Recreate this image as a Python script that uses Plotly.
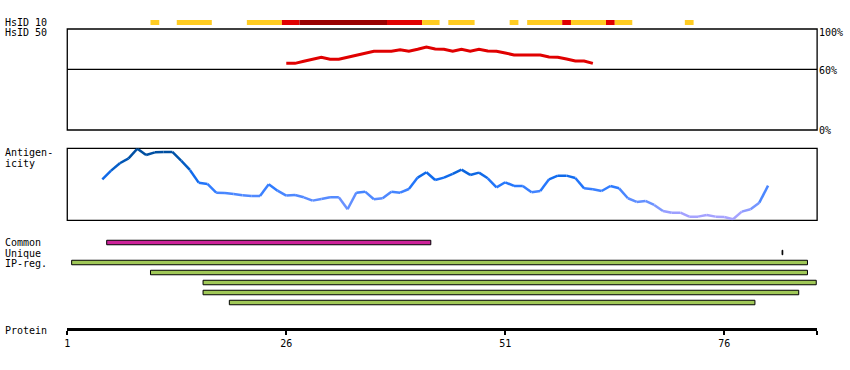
import plotly.graph_objects as go

# ---------------- data ----------------
# HsID 10 strip: residue ranges (inclusive) and identity level
hsid10_start = [11, 14, 22, 26, 28, 38, 42, 45, 52, 54, 58, 59, 63, 64, 72]
hsid10_end   = [11, 17, 25, 27, 37, 41, 43, 47, 52, 57, 58, 62, 63, 65, 72]
hsid10_level = ["low", "low", "low", "mid", "high", "mid", "low", "low", "low",
                "low", "mid", "low", "mid", "low", "low"]

# HsID 50 identity (%) per residue
hsid50_pos = list(range(26, 62))
hsid50_pct = [66.0, 66.0, 68.0, 70.3, 72.0, 70.0, 70.0, 72.0, 74.0, 76.2,
              77.9, 77.9, 77.9, 79.5, 77.9, 79.9, 82.2, 80.2, 79.9, 77.9,
              79.9, 77.9, 79.9, 78.2, 77.9, 76.2, 74.3, 74.3, 74.3, 74.3,
              72.3, 72.0, 70.3, 68.3, 68.3, 66.0]

# Antigenicity (relative score) per residue
antigen_pos = list(range(5, 82))
antigen_val = [0.569, 0.690, 0.792, 0.861, 0.995, 0.907, 0.944, 0.949, 0.949, 0.829,
               0.699, 0.523, 0.505, 0.384, 0.380, 0.366, 0.347, 0.338, 0.338, 0.500,
               0.412, 0.343, 0.352, 0.319, 0.273, 0.296, 0.319, 0.319, 0.153, 0.384,
               0.398, 0.292, 0.306, 0.398, 0.384, 0.435, 0.593, 0.667, 0.560, 0.593,
               0.644, 0.704, 0.630, 0.662, 0.583, 0.458, 0.528, 0.477, 0.477, 0.389,
               0.407, 0.569, 0.620, 0.620, 0.588, 0.444, 0.431, 0.407, 0.477, 0.444,
               0.306, 0.255, 0.269, 0.213, 0.130, 0.106, 0.106, 0.051, 0.051, 0.074,
               0.051, 0.046, 0.014, 0.120, 0.153, 0.245, 0.481]

# Region tracks (residue ranges, inclusive)
common_start = [6]
common_end = [42]
unique_pos = [82.6]
ipreg_start = [2, 11, 17, 17, 20]
ipreg_end = [85, 85, 86, 84, 79]

# Protein axis
protein_end = 86.6
tick_vals = [1, 26, 51, 76]
tick_text = ["1", "26", "51", "76"]

# ---------------- styles ----------------
FONT = "DejaVu Sans Mono"
level_color = {"low": "#ffcc22", "mid": "#e00000", "high": "#990000"}
H, W = 370, 850


def pfrac(px):
    return 1 - px / H


def antigen_color(v):
    stops = [(0.0, (172, 166, 255)), (0.1, (160, 160, 255)), (0.18, (122, 152, 255)),
             (0.3, (88, 140, 255)), (0.38, (72, 134, 255)), (0.47, (42, 122, 255)),
             (0.6, (18, 108, 240)), (0.8, (0, 88, 185)), (1.0, (0, 76, 152))]
    for (a, ca), (b, cb) in zip(stops[:-1], stops[1:]):
        if v <= b:
            t = (v - a) / (b - a)
            c = [round(ca[i] + (cb[i] - ca[i]) * t) for i in range(3)]
            return "rgb(%d,%d,%d)" % tuple(c)
    return "rgb(0,76,152)"


fig = go.Figure()

# HsID 10 strip
fig.add_trace(go.Bar(
    orientation="h", y=[0] * len(hsid10_start),
    base=[s - 0.5 for s in hsid10_start],
    x=[e - s + 1 for s, e in zip(hsid10_start, hsid10_end)],
    width=1, marker=dict(color=[level_color[l] for l in hsid10_level], line=dict(width=0)),
    xaxis="x", yaxis="y", showlegend=False, hoverinfo="skip"))

# HsID 50 line
fig.add_trace(go.Scatter(x=hsid50_pos, y=hsid50_pct, mode="lines",
                         line=dict(color="#e00000", width=3),
                         xaxis="x", yaxis="y2", showlegend=False, hoverinfo="skip"))

# Antigenicity line, segment-coloured by value
for i in range(len(antigen_pos) - 1):
    v = (antigen_val[i] + antigen_val[i + 1]) / 2
    fig.add_trace(go.Scatter(x=antigen_pos[i:i + 2], y=antigen_val[i:i + 2], mode="lines",
                             line=dict(color=antigen_color(v), width=2.5),
                             xaxis="x", yaxis="y3", showlegend=False, hoverinfo="skip"))

# Common / Unique / IP-reg bars
fig.add_trace(go.Bar(
    orientation="h", y=[0] * len(common_start),
    base=[s - 0.5 for s in common_start],
    x=[e - s + 1 for s, e in zip(common_start, common_end)],
    width=0.45, marker=dict(color="#cc2299", line=dict(color="black", width=1)),
    xaxis="x", yaxis="y4", showlegend=False, hoverinfo="skip"))
fig.add_trace(go.Bar(
    orientation="h", y=[1] * len(unique_pos), base=unique_pos, x=[0.08] * len(unique_pos),
    width=0.45, marker=dict(color="black", line=dict(color="black", width=1)),
    xaxis="x", yaxis="y4", showlegend=False, hoverinfo="skip"))
fig.add_trace(go.Bar(
    orientation="h", y=list(range(2, 2 + len(ipreg_start))),
    base=[s - 0.5 for s in ipreg_start],
    x=[e - s + 1 for s, e in zip(ipreg_start, ipreg_end)],
    width=0.45, marker=dict(color="#a0c858", line=dict(color="black", width=1)),
    xaxis="x", yaxis="y4", showlegend=False, hoverinfo="skip"))

xdom = [64.5 / W, 817 / W]
fig.update_layout(
    width=W, height=H, autosize=False,
    margin=dict(l=0, r=0, t=0, b=0),
    paper_bgcolor="white", plot_bgcolor="rgba(0,0,0,0)",
    barmode="overlay", hovermode=False,
    font=dict(family=FONT, size=10, color="black"),
    xaxis=dict(domain=xdom, range=[1, protein_end], anchor="free", position=pfrac(329),
               showgrid=False, zeroline=False, showline=True, linecolor="black", linewidth=3,
               ticks="outside", ticklen=4, tickwidth=2, tickcolor="black",
               tickvals=tick_vals + [protein_end], ticktext=tick_text + [""],
               tickfont=dict(family=FONT, size=10, color="black"), fixedrange=True),
    yaxis=dict(domain=[pfrac(25), pfrac(20)], range=[-0.5, 0.5], anchor="x",
               visible=False, fixedrange=True),
    yaxis2=dict(domain=[pfrac(130), pfrac(29)], range=[0, 100], anchor="x",
                visible=False, fixedrange=True),
    yaxis3=dict(domain=[pfrac(220.3), pfrac(148.3)], range=[0, 1], anchor="x",
                visible=False, fixedrange=True),
    yaxis4=dict(domain=[pfrac(307.5), pfrac(237.5)], range=[6.5, -0.5], anchor="x",
                visible=False, fixedrange=True),
)

# panel frames and 60% line
for yr in ["y2", "y3"]:
    fig.add_shape(type="rect", xref="x domain", yref=yr + " domain", x0=0, x1=1, y0=0, y1=1,
                  line=dict(color="black", width=1.3), layer="below")
fig.add_shape(type="line", xref="x domain", yref="y2", x0=0, x1=1, y0=60, y1=60,
              line=dict(color="black", width=1.3), layer="below")

# right-hand percentage labels
for val, txt, sh in [(100, "100%", -4), (60, "60%", -1.5), (0, "0%", 0)]:
    fig.add_annotation(xref="x domain", yref="y2", x=1, y=val, text=txt, showarrow=False,
                       xanchor="left", yanchor="middle", xshift=0, yshift=sh,
                       font=dict(family=FONT, size=10, color="black"))

# left labels
left_labels = [("HsID 10", 22.5), ("HsID 50", 32.5), ("Antigen-", 152.5), ("icity", 163.5),
               ("Common", 243), ("Unique", 253), ("IP-reg.", 263), ("Protein", 330)]
for txt, ypx in left_labels:
    fig.add_annotation(xref="paper", yref="paper", x=0, y=pfrac(ypx), text=txt,
                       showarrow=False, xanchor="left", yanchor="middle", xshift=0,
                       font=dict(family=FONT, size=10, color="black"))

fig.write_html("out.html", config={"displayModeBar": False, "staticPlot": True},
               post_script="document.body.style.margin='0';document.body.style.padding='0';")
